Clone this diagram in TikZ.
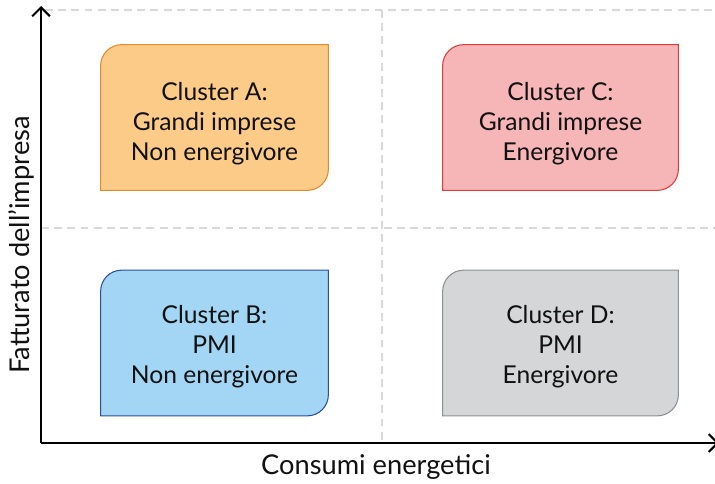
\documentclass[tikz,border=0pt]{standalone}
\usepackage{fontspec}
\setmainfont{Lato}
\usepackage{tikz}
\usetikzlibrary{arrows.meta, positioning, calc, backgrounds}

\definecolor{fillA}{HTML}{FBCB87}
\definecolor{lineA}{HTML}{E38B2A}
\definecolor{fillB}{HTML}{A3D6F4}
\definecolor{lineB}{HTML}{2E4D9B}
\definecolor{fillC}{HTML}{F6B6B8}
\definecolor{lineC}{HTML}{E0393E}
\definecolor{fillD}{HTML}{D5D6D8}
\definecolor{lineD}{HTML}{8F9093}
\definecolor{gridgray}{HTML}{D9D9D9}
\definecolor{txt}{HTML}{111111}

\begin{document}
\begin{tikzpicture}[
  quad/.style={minimum width=4.54cm, minimum height=2.9cm, inner sep=0pt},
  words/.style={align=center, text=txt, font=\fontsize{14}{17}\selectfont},
  outline/.style={line width=0.6pt},
  axis/.style={line width=1.2pt, -{Straight Barb[length=5pt, width=10pt, line width=1.2pt]}},
  grid/.style={draw=gridgray, line width=0.6pt, dash pattern=on 4.5pt off 3pt},
  axlabel/.style={font=\fontsize{15.5}{17}\selectfont, text=txt},
]
\useasboundingbox (0,0) rectangle (14.3,9.66);

% Axes corners
\coordinate (origin) at (0.82,0.80);
\coordinate (ytip)   at (0.82,9.54);
\coordinate (xtip)   at (14.38,0.80);
\coordinate (gtopL)  at (0.90,9.46);
\coordinate (gtopR)  at (14.3,9.46);
\coordinate (gmidL)  at (0.82,5.10);
\coordinate (gmidR)  at (14.3,5.10);
\coordinate (gvtop)  at (7.64,9.46);
\coordinate (gvbot)  at (7.64,0.80);

% Clusters
\node[quad] (clusterA) at (4.29,7.31) {};
\node[quad, minimum width=4.7cm] (clusterC) at (11.21,7.31) {};
\node[quad] (clusterB) at (4.29,2.80) {};
\node[quad, minimum width=4.7cm] (clusterD) at (11.21,2.80) {};

\node[words, yshift=-0.12cm] (textA) at (clusterA) {Cluster A:\\Grandi imprese\\Non energivore};
\node[words, yshift=-0.12cm] (textC) at (clusterC) {Cluster C:\\Grandi imprese\\Energivore};
\node[words, yshift=-0.08cm] (textB) at (clusterB) {Cluster B:\\PMI\\Non energivore};
\node[words, yshift=-0.08cm] (textD) at (clusterD) {Cluster D:\\PMI\\Energivore};

\begin{scope}[on background layer]
% Grid
\draw[grid] (gtopL) -- (gtopR);
\draw[grid] (gmidL) -- (gmidR);
\draw[grid] (gvtop) -- (gvbot);

% Outlines (round top left and bottom right)
\draw[outline, draw=lineA, fill=fillA] (clusterA.south west) -- ([yshift=-0.42cm]clusterA.north west) arc[start angle=180, end angle=90, radius=0.42cm] -- (clusterA.north east) -- ([yshift=0.42cm]clusterA.south east) arc[start angle=0, end angle=-90, radius=0.42cm] -- cycle;
\draw[outline, draw=lineC, fill=fillC] (clusterC.south west) -- ([yshift=-0.42cm]clusterC.north west) arc[start angle=180, end angle=90, radius=0.42cm] -- (clusterC.north east) -- ([yshift=0.42cm]clusterC.south east) arc[start angle=0, end angle=-90, radius=0.42cm] -- cycle;
\draw[outline, draw=lineB, fill=fillB] (clusterB.south west) -- ([yshift=-0.42cm]clusterB.north west) arc[start angle=180, end angle=90, radius=0.42cm] -- (clusterB.north east) -- ([yshift=0.42cm]clusterB.south east) arc[start angle=0, end angle=-90, radius=0.42cm] -- cycle;
\draw[outline, draw=lineD, fill=fillD] (clusterD.south west) -- ([yshift=-0.42cm]clusterD.north west) arc[start angle=180, end angle=90, radius=0.42cm] -- (clusterD.north east) -- ([yshift=0.42cm]clusterD.south east) arc[start angle=0, end angle=-90, radius=0.42cm] -- cycle;
\end{scope}

% Axes
\draw[axis] (origin) -- (ytip);
\draw[axis] (origin) -- (xtip);

\node[axlabel] (xlabel) at (7.52,0.32) {Consumi energetici};
\node[axlabel, rotate=90] (ylabel) at (0.42,4.76) {Fatturato dell’impresa};

\end{tikzpicture}
\end{document}
